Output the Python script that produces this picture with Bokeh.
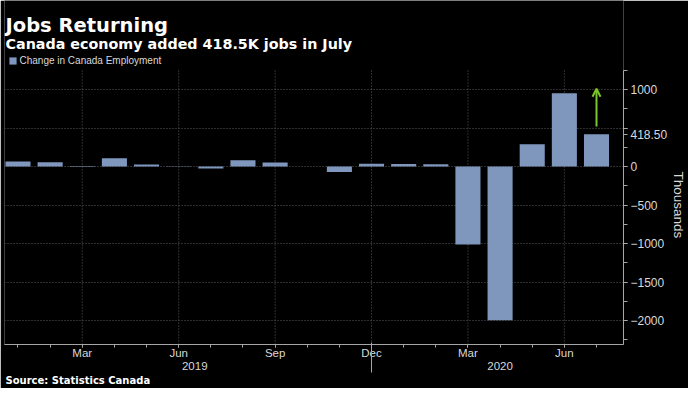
from bokeh.plotting import figure
from bokeh.models import (Range1d, FixedTicker, Legend, LegendItem, Arrow, OpenHead,
                          ColumnDataSource, LinearAxis, Title, Label)
from bokeh.core.properties import value
from bokeh.embed import file_html
from bokeh.resources import INLINE

# ---- data ----
months = ["Jan 2019", "Feb 2019", "Mar 2019", "Apr 2019", "May 2019", "Jun 2019",
          "Jul 2019", "Aug 2019", "Sep 2019", "Oct 2019", "Nov 2019", "Dec 2019",
          "Jan 2020", "Feb 2020", "Mar 2020", "Apr 2020", "May 2020", "Jun 2020",
          "Jul 2020"]
employment_change = [67, 56, 7, 107, 28, -2, -24, 81, 54, 2, -71, 35,
                     34, 30, -1011, -1994, 290, 953, 418.5]
x_tick_pos = [2, 5, 8, 11, 14, 17]
x_tick_labels = ["Mar", "Jun", "Sep", "Dec", "Mar", "Jun"]
years = ["2019", "2020"]
year_centers = [5.5, 15]
year_separator = 11
y_ticks = [-2000, -1500, -1000, -500, 0, 500, 1000]
y_minor_ticks = list(range(-2250, 1251, 250))
last_value = employment_change[-1]

BAR = "#7f97bd"
TXT = "#d9d9d9"
AX = "#a6a6a6"
GRID = "#5c5c5c"

# value range of the plotting area; the frame also holds the header above it
Y0, AXIS_TOP = -2310, 1247
HEADER_PX, AXIS_PX = 70, 274
Y1 = AXIS_TOP + HEADER_PX * (AXIS_TOP - Y0) / AXIS_PX
FRAME_H = HEADER_PX + AXIS_PX

src = ColumnDataSource(dict(x=list(range(len(months))), v=employment_change, m=months))

p = figure(width=688, height=388,
           x_range=Range1d(-0.42, 18.84), y_range=Range1d(Y0, Y1),
           y_axis_location="right", output_backend="svg", toolbar_location=None,
           background_fill_color="black", border_fill_color="black",
           min_border_left=4, min_border_right=65, min_border_top=0,
           min_border_bottom=44, outline_line_color=None)

# vertical grid lines at the labelled months, only over the plotting area
p.segment(x0=x_tick_pos, y0=[Y0] * len(x_tick_pos), x1=x_tick_pos,
          y1=[AXIS_TOP] * len(x_tick_pos), line_color=GRID, line_dash="1 2", line_width=1)

r = p.vbar(x="x", top="v", width=0.78, source=src, fill_color=BAR, line_color=None)

# ---- x axis (months) ----
xa = p.xaxis[0]
xa.ticker = FixedTicker(ticks=x_tick_pos, minor_ticks=list(range(len(months))))
xa.major_label_overrides = {t: l for t, l in zip(x_tick_pos, x_tick_labels)}
xa.axis_line_color = AX
xa.major_tick_line_color = AX
xa.minor_tick_line_color = AX
xa.major_tick_in = 0
xa.major_tick_out = 3
xa.minor_tick_in = 0
xa.minor_tick_out = 3
xa.major_label_standoff = -1
xa.major_label_text_color = TXT
xa.major_label_text_font = "Liberation Sans"
xa.major_label_text_font_size = "11.5px"
p.xgrid.visible = False

# ---- year row ----
yr_axis = LinearAxis(ticker=FixedTicker(ticks=year_centers),
                     major_label_overrides={c: y for c, y in zip(year_centers, years)},
                     axis_line_color=None, major_tick_line_color=None,
                     minor_tick_line_color=None, major_tick_in=0, major_tick_out=0,
                     major_label_standoff=0, major_label_text_color=TXT,
                     major_label_text_font="Liberation Sans",
                     major_label_text_font_size="11.5px")
p.add_layout(yr_axis, "below")

sep_axis = LinearAxis(ticker=FixedTicker(ticks=[year_separator]),
                      axis_line_color=None, major_tick_line_color=AX,
                      minor_tick_line_color=None, major_tick_in=30, major_tick_out=0,
                      major_label_standoff=0, major_label_text_font_size="1px",
                      major_label_text_alpha=0)
p.add_layout(sep_axis, "below")

p.add_layout(Title(text="Source: Statistics Canada", align="left", offset=1,
                   text_font="DejaVu Sans", text_font_style="bold",
                   text_font_size="10px", text_color="white", standoff=0), "below")

# ---- y axis (right) ----
ya = p.yaxis[0]
ya.bounds = (Y0, AXIS_TOP)
ya.ticker = FixedTicker(ticks=y_ticks + [last_value], minor_ticks=y_minor_ticks)
ya.major_label_overrides = {500: "", last_value: f"{last_value:.2f}"}
ya.axis_line_color = AX
ya.major_tick_line_color = AX
ya.minor_tick_line_color = AX
ya.major_tick_in = 0
ya.major_tick_out = 4
ya.minor_tick_in = 0
ya.minor_tick_out = 4
ya.major_label_standoff = 3
ya.major_label_text_color = TXT
ya.major_label_text_font = "Liberation Sans"
ya.major_label_text_font_size = "12px"

# unit label beside the axis, centred on the plotting area
p.add_layout(Title(text="Thousands", align="left", offset=HEADER_PX + 101,
                   text_font="Liberation Sans", text_font_style="normal",
                   text_font_size="13.5px", text_color=TXT, standoff=0), "right")

yg = p.ygrid[0]
yg.ticker = FixedTicker(ticks=y_ticks)
yg.grid_line_color = GRID
yg.grid_line_dash = "1 2"
yg.grid_line_width = 1

# ---- legend (inside the frame's header strip) ----
legend = Legend(items=[LegendItem(label=value("Change in Canada Employment"), renderers=[r])],
                location=(3.5, FRAME_H - 66), orientation="horizontal",
                glyph_width=9, glyph_height=9, label_height=9, label_width=10,
                label_standoff=3, padding=0, margin=0, spacing=0,
                background_fill_alpha=0, border_line_alpha=0,
                label_text_color=TXT, label_text_font="Liberation Sans",
                label_text_font_size="10px")
p.add_layout(legend)

# ---- titles ----
p.add_layout(Label(x=1, y=FRAME_H - 25, x_units="screen", y_units="screen",
                   text="Jobs Returning", text_font="DejaVu Sans", text_font_style="bold",
                   text_font_size="19.5px", text_color="white", text_baseline="alphabetic"))
p.add_layout(Label(x=1, y=FRAME_H - 43, x_units="screen", y_units="screen",
                   text="Canada economy added 418.5K jobs in July",
                   text_font="DejaVu Sans", text_font_style="bold", text_font_size="14.3px",
                   text_color="white", text_baseline="alphabetic"))

# ---- green arrow ----
p.add_layout(Arrow(x_start=len(months) - 1, y_start=520, x_end=len(months) - 1, y_end=1010,
                   line_color="#7cc52a", line_width=2,
                   end=OpenHead(size=8, line_color="#7cc52a", line_width=2)))

open("out.html", "w").write(file_html(p, INLINE))
